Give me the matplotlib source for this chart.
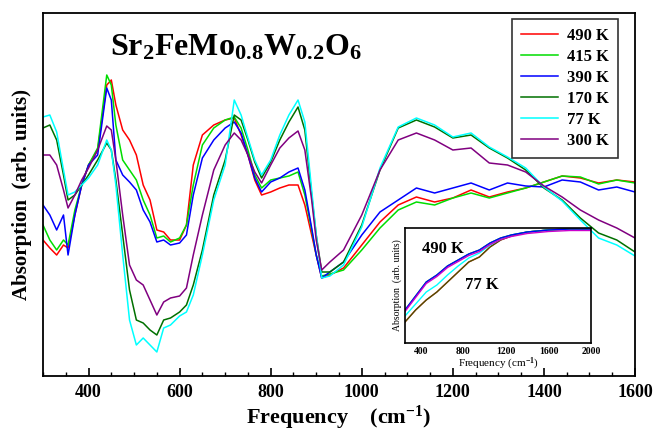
import matplotlib
matplotlib.use("Agg")
import matplotlib.pyplot as plt
from matplotlib.ticker import MultipleLocator

plt.rcParams['font.family'] = ['Liberation Serif', 'DejaVu Serif']
plt.rcParams['mathtext.fontset'] = 'custom'
plt.rcParams['mathtext.rm'] = 'Liberation Serif:bold'
plt.rcParams['mathtext.it'] = 'Liberation Serif:bold'
plt.rcParams['mathtext.bf'] = 'Liberation Serif:bold'

# ---------------- main panel data (arb. units) ----------------
freq = [300, 315, 330, 345, 355, 370, 385, 400, 420, 440, 450, 460, 475, 490, 505,
        520, 535, 550, 565, 580, 600, 615, 630, 650, 675, 700, 720, 735, 750, 765,
        780, 800, 820, 840, 860, 875, 890, 900, 912, 930, 960, 1000, 1040, 1080,
        1120, 1160, 1200, 1240, 1280, 1320, 1360, 1400, 1440, 1480, 1520, 1560, 1600]

red_pix = [240, 248, 255, 245, 248, 215, 185, 165, 150, 85, 80, 105, 130, 140, 155,
           185, 200, 230, 232, 240, 240, 225, 165, 135, 125, 120, 118, 135, 155, 180,
           195, 192, 188, 185, 185, 205, 235, 255, 278, 275, 268, 245, 222, 205,
           197, 202, 198, 190, 197, 192, 188, 182, 176, 178, 183, 180, 182]
green_pix = [225, 240, 250, 240, 245, 210, 185, 165, 148, 75, 85, 125, 160, 170, 180,
             200, 215, 238, 236, 242, 238, 225, 185, 145, 128, 120, 117, 128, 150, 175,
             188, 180, 178, 176, 172, 195, 230, 255, 276, 274, 270, 250, 228, 210,
             202, 205, 198, 193, 198, 193, 188, 182, 176, 177, 184, 180, 183]
blue_pix = [205, 215, 230, 215, 255, 215, 185, 165, 155, 88, 100, 160, 175, 182, 190,
            210, 222, 242, 240, 245, 243, 235, 195, 158, 140, 128, 122, 133, 155, 178,
            192, 182, 178, 172, 168, 190, 228, 255, 278, 272, 262, 235, 212, 200,
            188, 193, 188, 183, 190, 183, 186, 187, 180, 182, 190, 187, 192]
dgreen_pix = [128, 125, 140, 175, 200, 195, 185, 175, 160, 143, 150, 180, 235, 290, 320,
              323, 330, 335, 320, 318, 312, 305, 285, 250, 195, 160, 115, 120, 140, 162,
              178, 162, 140, 122, 107, 130, 195, 235, 272, 272, 262, 225, 170, 128,
              120, 127, 138, 135, 148, 158, 170, 188, 200, 218, 233, 240, 252]
cyan_pix = [117, 115, 132, 170, 195, 192, 185, 178, 165, 140, 150, 185, 255, 320, 345,
            338, 345, 352, 328, 325, 316, 312, 295, 255, 200, 165, 100, 115, 138, 160,
            175, 160, 135, 115, 100, 122, 190, 235, 278, 276, 265, 227, 168, 127,
            118, 125, 137, 133, 147, 157, 168, 187, 201, 220, 238, 245, 256]
purple_pix = [155, 155, 165, 190, 208, 195, 180, 168, 150, 126, 130, 160, 215, 265, 280,
              285, 300, 315, 302, 298, 296, 288, 255, 215, 170, 145, 133, 140, 155, 172,
              183, 165, 148, 138, 131, 150, 200, 240, 270, 262, 250, 215, 170, 140,
              133, 140, 150, 148, 163, 165, 172, 186, 197, 210, 220, 228, 238]

labels = ['490 K', '415 K', '390 K', '170 K', '77 K', '300 K']
colors = ['#ff0000', '#00dd00', '#0000ff', '#007000', '#00ffff', '#800080']
series = [red_pix, green_pix, blue_pix, dgreen_pix, cyan_pix, purple_pix]
BASE = 376
series_vals = [[BASE - v for v in s] for s in series]

# ---------------- inset data ----------------
freq_in = [250, 350, 450, 550, 650, 750, 850, 950, 1050, 1150, 1250, 1400, 1600, 1800, 2000]
high_pix = [310, 296, 282, 275, 266, 260, 254, 250, 243, 238, 235, 232, 230, 229, 229]
mid_pix = [316, 304, 292, 285, 275, 266, 258, 253, 245, 239, 235, 232, 230, 229, 229]
low_pix = [322, 310, 300, 292, 282, 272, 262, 257, 247, 240, 236, 232, 230, 229, 229]
IBASE = 343
high_v = [IBASE - v for v in high_pix]
mid_v = [IBASE - v for v in mid_pix]
low_v = [IBASE - v for v in low_pix]

W, H = 655, 441
fig = plt.figure(figsize=(W / 100, H / 100), dpi=100)
ax = fig.add_axes([43 / W, 1 - 376 / H, (635 - 43) / W, (376 - 13) / H])

for vals, c, lab in zip(series_vals, colors, labels):
    ax.plot(freq, vals, color=c, lw=1.1, label=lab)

ax.set_xlim(300, 1600)
ax.set_ylim(0, 363)
ax.xaxis.set_major_locator(MultipleLocator(200))
ax.xaxis.set_minor_locator(MultipleLocator(50))
ax.tick_params(axis='x', which='major', direction='in', length=6, width=1.2,
               labelsize=13, pad=6, top=False)
ax.tick_params(axis='x', which='minor', direction='in', length=3, width=1.0, top=False)
ax.set_yticks([])
for lbl in ax.get_xticklabels():
    lbl.set_fontweight('bold')
for sp in ax.spines.values():
    sp.set_linewidth(1.3)

ax.set_xlabel('Frequency    (cm$^{-1}$)', fontsize=16, fontweight='bold', labelpad=2)
ax.set_ylabel('Absorption  (arb. units)', fontsize=15, fontweight='bold', labelpad=8)

ax.text(0.113, 0.884, r'Sr$_2$FeMo$_{0.8}$W$_{0.2}$O$_6$', transform=ax.transAxes,
        fontsize=23, fontweight='bold', va='baseline', ha='left')

leg = ax.legend(loc='upper right', bbox_to_anchor=((618 - 43) / 592, (376 - 19) / 363),
                borderaxespad=0, frameon=True, fancybox=False, handlelength=2.2,
                labelspacing=0.3, borderpad=0.55, handletextpad=0.55,
                prop={'weight': 'bold', 'size': 12})
leg.get_frame().set_edgecolor('black')
leg.get_frame().set_linewidth(1.2)

# ---------------- inset ----------------
ia = fig.add_axes([405 / W, 1 - 343 / H, (591 - 405) / W, (343 - 228) / H])
ia.plot(freq_in, low_v, color='#ff0000', lw=1.0)
ia.plot(freq_in, low_v, color='#007000', lw=1.0, alpha=0.7)
ia.plot(freq_in, mid_v, color='#00ffff', lw=1.0)
ia.plot(freq_in, high_v, color='#00dd00', lw=1.0)
ia.plot(freq_in, high_v, color='#0000ff', lw=1.0)
ia.plot(freq_in, [v - 1.5 for v in high_v], color='#cc00cc', lw=1.0)
ia.set_xlim(250, 2000)
ia.set_ylim(0, 115)
ia.set_yticks([])
ia.set_xticks([400, 800, 1200, 1600, 2000])
ia.tick_params(axis='x', length=0, labelsize=7, pad=3)
for lbl in ia.get_xticklabels():
    lbl.set_fontweight('bold')
for sp in ia.spines.values():
    sp.set_linewidth(1.2)
ia.set_xlabel('Frequency (cm$^{-1}$)', fontsize=8, labelpad=0)
ia.set_ylabel('Absorption  (arb. units)', fontsize=7, labelpad=2)
ia.text(0.09, 0.78, '490 K', transform=ia.transAxes, fontsize=12, fontweight='bold',
        va='baseline')
ia.text(0.32, 0.47, '77 K', transform=ia.transAxes, fontsize=12, fontweight='bold',
        va='baseline')

fig.savefig('out.png', dpi=100)
